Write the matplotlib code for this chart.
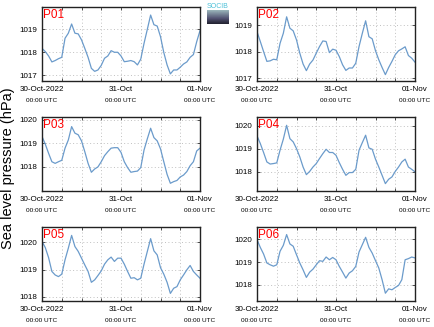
import numpy as np
import pandas as pd
import matplotlib
matplotlib.use("Agg")
import matplotlib.pyplot as plt
import matplotlib.dates as mdates
import matplotlib.transforms as mtransforms

plt.rcParams['font.family'] = ['Liberation Sans', 'DejaVu Sans']

# hourly sea level pressure (hPa), 30-Oct-2022 00:00 UTC to 01-Nov 00:00 UTC
times = pd.date_range('2022-10-30 00:00', periods=49, freq='h')

p01 = [1018.17, 1018.03, 1017.84, 1017.58, 1017.64, 1017.72, 1017.78, 1018.61, 1018.83, 1019.23,
       1018.83, 1018.80, 1018.54, 1018.17, 1017.78, 1017.30, 1017.17, 1017.23, 1017.43, 1017.74,
       1017.84, 1018.07, 1018.00, 1018.00, 1017.84, 1017.59, 1017.61, 1017.64, 1017.59, 1017.45,
       1017.70, 1018.39, 1019.00, 1019.62, 1019.20, 1019.14, 1018.68, 1017.99, 1017.45, 1017.06,
       1017.23, 1017.23, 1017.35, 1017.49, 1017.58, 1017.78, 1017.90, 1018.46, 1018.94]
p02 = [1018.75, 1018.38, 1018.00, 1017.63, 1017.65, 1017.71, 1017.69, 1018.31, 1018.69, 1019.31,
       1018.88, 1018.78, 1018.44, 1017.94, 1017.53, 1017.28, 1017.53, 1017.68, 1017.94, 1018.19,
       1018.40, 1018.38, 1017.96, 1018.09, 1018.05, 1017.81, 1017.50, 1017.29, 1017.38, 1017.38,
       1017.56, 1018.19, 1018.69, 1019.16, 1018.56, 1018.48, 1018.03, 1017.69, 1017.40, 1017.13,
       1017.40, 1017.63, 1017.88, 1018.03, 1018.10, 1018.18, 1017.85, 1017.75, 1017.60]
p03 = [1019.29, 1018.96, 1018.57, 1018.21, 1018.14, 1018.21, 1018.27, 1018.79, 1019.14, 1019.71,
       1019.43, 1019.36, 1019.10, 1018.64, 1018.14, 1017.76, 1017.90, 1017.99, 1018.21, 1018.47,
       1018.64, 1018.79, 1018.81, 1018.81, 1018.61, 1018.21, 1017.96, 1017.76, 1017.79, 1017.81,
       1017.96, 1018.71, 1019.19, 1019.64, 1019.24, 1019.10, 1018.76, 1018.21, 1017.67, 1017.29,
       1017.36, 1017.41, 1017.56, 1017.64, 1017.79, 1018.04, 1018.21, 1018.67, 1018.79]
p04 = [1019.55, 1019.22, 1018.83, 1018.42, 1018.33, 1018.35, 1018.38, 1018.93, 1019.41, 1020.01,
       1019.43, 1019.29, 1019.00, 1018.64, 1018.20, 1017.87, 1018.01, 1018.20, 1018.35, 1018.57,
       1018.78, 1018.97, 1018.83, 1018.83, 1018.71, 1018.39, 1018.10, 1017.84, 1017.96, 1017.96,
       1018.10, 1018.93, 1019.26, 1019.58, 1019.03, 1018.97, 1018.54, 1018.20, 1017.84, 1017.48,
       1017.67, 1017.77, 1018.01, 1018.20, 1018.42, 1018.54, 1018.20, 1018.10, 1017.99]
p05 = [1020.04, 1019.81, 1019.44, 1018.93, 1018.80, 1018.74, 1018.83, 1019.36, 1019.79, 1020.26,
       1019.85, 1019.67, 1019.42, 1019.17, 1018.93, 1018.53, 1018.62, 1018.78, 1018.95, 1019.20,
       1019.36, 1019.46, 1019.30, 1019.42, 1019.42, 1019.20, 1018.93, 1018.68, 1018.70, 1018.62,
       1018.68, 1019.20, 1019.67, 1020.14, 1019.69, 1019.54, 1019.07, 1018.83, 1018.53, 1018.12,
       1018.31, 1018.37, 1018.62, 1018.80, 1018.99, 1019.15, 1018.93, 1018.80, 1018.68]
p06 = [1019.98, 1019.64, 1019.35, 1018.96, 1018.88, 1018.82, 1018.88, 1019.47, 1019.73, 1020.20,
       1019.79, 1019.69, 1019.32, 1018.96, 1018.66, 1018.33, 1018.56, 1018.69, 1018.88, 1019.06,
       1019.03, 1019.22, 1019.10, 1019.20, 1019.10, 1018.81, 1018.56, 1018.30, 1018.52, 1018.62,
       1018.81, 1019.44, 1019.76, 1020.08, 1019.64, 1019.39, 1019.06, 1018.74, 1018.23, 1017.64,
       1017.83, 1017.79, 1017.89, 1017.98, 1018.23, 1019.10, 1019.15, 1019.22, 1019.18]

stations = ['P01', 'P02', 'P03', 'P04', 'P05', 'P06']
series = [p01, p02, p03, p04, p05, p06]
ylims = [(1016.75, 1019.97), (1016.89, 1019.68), (1016.96, 1020.12),
         (1017.16, 1020.37), (1017.84, 1020.57), (1017.30, 1020.53)]
yticks = [[1017, 1018, 1019], [1017, 1018, 1019], [1018, 1019, 1020],
          [1018, 1019, 1020], [1018, 1019, 1020], [1018, 1019, 1020]]
day_labels = ['30-Oct-2022', '31-Oct', '01-Nov']

W, H = 434, 327
fig = plt.figure(figsize=(W / 100, H / 100), dpi=100)

lefts = [42, 257]
tops = [7, 117, 227]
aw, ah = 158, 74

line_color = '#6b9bcb'
grid_color = '#c0c0c0'

for i, (name, vals) in enumerate(zip(stations, series)):
    r, c = divmod(i, 2)
    ax = fig.add_axes([lefts[c] / W, 1 - (tops[r] + ah) / H, aw / W, ah / H])
    ax.plot(times, vals, color=line_color, lw=0.9)
    ax.set_xlim(times[0], times[-1])
    ax.set_ylim(*ylims[i])
    ax.set_yticks(yticks[i])
    ax.set_yticklabels([str(t) for t in yticks[i]], fontsize=5.8)

    ax.xaxis.set_minor_locator(mdates.HourLocator(byhour=[6, 12, 18]))
    ax.set_xticks(times[::24])
    ax.set_xticklabels(day_labels, fontsize=5.8)
    ax.grid(True, which='both', axis='x', ls=(0, (1, 2.5)), color=grid_color, lw=0.7)
    ax.grid(True, which='major', axis='y', ls=(0, (1, 2.5)), color=grid_color, lw=0.7)
    ax.tick_params(which='both', direction='in', length=2, width=0.6,
                   top=True, right=True, pad=3.5, colors='#333333', labelcolor='black')
    for s in ax.spines.values():
        s.set_linewidth(1.0)
        s.set_color('#222222')

    trans = mtransforms.blended_transform_factory(ax.transData, ax.transAxes)
    for t in times[::24]:
        ax.annotate('00:00 UTC', xy=(mdates.date2num(t), 0), xycoords=trans,
                    xytext=(0, -12.3), textcoords='offset points',
                    ha='center', va='top', fontsize=4.6, annotation_clip=False)

    ax.text(0.008, 0.97, name, transform=ax.transAxes, color='red',
            fontsize=8.5, ha='left', va='top')

fig.text(8.5 / W, 1 - 168 / H, 'Sea level pressure (hPa)', rotation=90,
         ha='center', va='center', fontsize=10.5)

# small logo at the top
logo = fig.add_axes([207 / W, 1 - 24 / H, 22 / W, 14 / H])
grad = np.linspace(0, 1, 20).reshape(-1, 1)
logo.imshow(grad, aspect='auto', cmap='bone_r', vmin=-0.6, vmax=1.3)
logo.set_axis_off()
fig.text(218 / W, 1 - 6 / H, 'SOCIB', color='#4cc0d8', fontsize=5,
         ha='center', va='center')

fig.savefig('out.png', dpi=100)
